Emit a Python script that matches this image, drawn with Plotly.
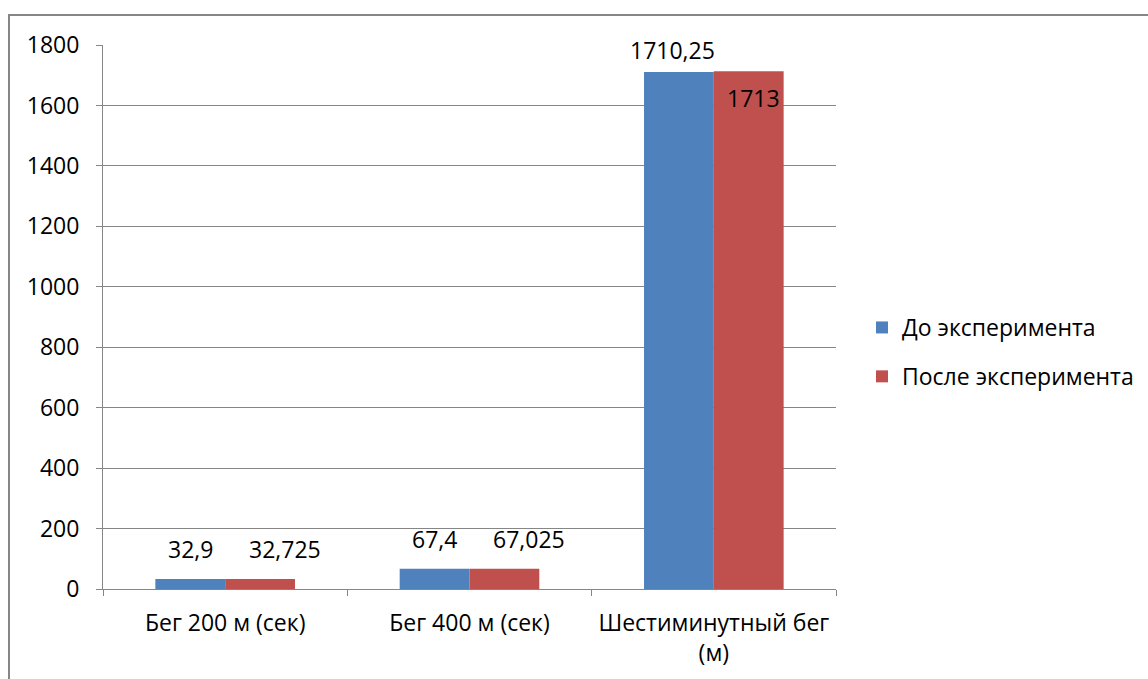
import plotly.graph_objects as go

categories = ["Бег 200 м (сек)", "Бег 400 м (сек)", "Шестиминутный бег<br>(м)"]
before_vals = [32.9, 67.4, 1710.25]
after_vals = [32.725, 67.025, 1713]
before_labels = ["32,9", "67,4", "1710,25"]
after_labels = ["32,725", "67,025", "1713"]
series_names = ["До эксперимента", "После эксперимента"]
y_ticks = [0, 200, 400, 600, 800, 1000, 1200, 1400, 1600, 1800]

FONT = "Open Sans, Noto Sans, sans-serif"
FS = 23
GRID = "#868686"
BLUE = "#4F81BD"
RED = "#C0504D"

W, H = 1148, 679
L, R, T, B = 103, 312, 45, 90
pw, ph = W - L - R, H - T - B

fig = go.Figure()
fig.add_trace(go.Bar(x=categories, y=before_vals, name=series_names[0],
                     marker=dict(color=BLUE, line=dict(width=0)), legendgroup="a"))
fig.add_trace(go.Bar(x=categories, y=after_vals, name=series_names[1],
                     marker=dict(color=RED, line=dict(width=0)), legendgroup="b"))

# label styling (offsets in px)
bar_px = pw / len(categories) / 3.5
before_style = [(-bar_px / 2, 12, "bottom"), (-bar_px / 2, 12, "bottom"), (-bar_px / 2 - 6, 4, "bottom")]
after_style = [(bar_px / 2 + 25, 12, "bottom"), (bar_px / 2 + 25, 12, "bottom"), (bar_px / 2 + 5, -9, "top")]

annotations = []
for cats, vals, labs, styles in [(categories, before_vals, before_labels, before_style),
                                 (categories, after_vals, after_labels, after_style)]:
    for c, v, lab, (xs, ys, ya) in zip(cats, vals, labs, styles):
        annotations.append(dict(x=c, y=v, xref="x", yref="y", text=lab, showarrow=False,
                                xshift=xs, yshift=ys, yanchor=ya,
                                font=dict(family=FONT, size=FS, color="black")))

def px_to_paper_x(px):
    return (px - L) / pw

def px_to_paper_y(py):
    return (H - B - py) / ph

fig.update_layout(
    width=W, height=H,
    margin=dict(l=L, r=R, t=T, b=B, autoexpand=False),
    paper_bgcolor="white", plot_bgcolor="white",
    barmode="group", bargap=1.5 / 3.5, bargroupgap=0,
    font=dict(family=FONT, size=FS, color="black"),
    showlegend=True,
    legend=dict(x=px_to_paper_x(862), y=px_to_paper_y(352), xanchor="left", yanchor="middle",
                traceorder="grouped", tracegroupgap=16,
                font=dict(family=FONT, size=FS, color="black"), bgcolor="rgba(0,0,0,0)"),
    annotations=annotations,
    shapes=[dict(type="rect", xref="paper", yref="paper",
                 x0=px_to_paper_x(9), x1=px_to_paper_x(1150),
                 y0=px_to_paper_y(700), y1=px_to_paper_y(15),
                 line=dict(color=GRID, width=2), fillcolor="rgba(0,0,0,0)", layer="below")],
)
fig.update_yaxes(range=[0, 1800], tickvals=y_ticks, showgrid=True, gridcolor=GRID, gridwidth=1,
                 showline=True, linecolor=GRID, linewidth=1, ticks="outside", ticklen=6,
                 tickcolor=GRID, ticklabelstandoff=12, zeroline=False, automargin=False,
                 tickfont=dict(family=FONT, size=FS, color="black"))
fig.update_xaxes(showline=True, linecolor=GRID, linewidth=1, ticks="outside", ticklen=6,
                 tickcolor=GRID, tickson="boundaries", showgrid=False, ticklabelstandoff=13,
                 automargin=False,
                 tickfont=dict(family=FONT, size=FS, color="black"))

fig.write_html("out.html")
